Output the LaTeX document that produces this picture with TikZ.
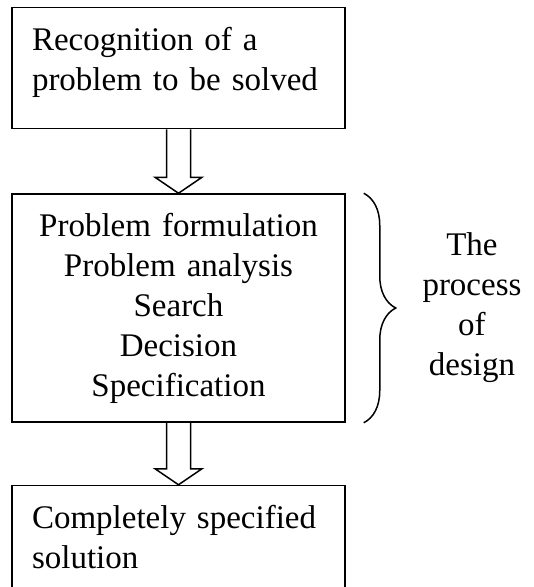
\documentclass[tikz,border=0pt]{standalone}
\usepackage{fontspec}
\setmainfont{Liberation Serif}
\usetikzlibrary{positioning,decorations.pathreplacing}

\begin{document}
\begin{tikzpicture}[node distance=64pt,
		line width=1.5pt,
		stage box/.style={rectangle,draw,inner xsep=20pt,text width=293pt,font=\fontsize{33}{40}\selectfont},
		hollow arrow/.style={line join=miter,to path={([xshift=-12pt]\tikztostart)
			-- ([xshift=-12pt,yshift=16pt]\tikztotarget) -- ([xshift=-23.5pt,yshift=16pt]\tikztotarget)
			-- (\tikztotarget)
			-- ([xshift=23.5pt,yshift=16pt]\tikztotarget) -- ([xshift=12pt,yshift=16pt]\tikztotarget)
			-- ([xshift=12pt]\tikztostart)}},
		curly/.style={decorate,decoration={brace,amplitude=32pt}}]

		\useasboundingbox (0,0) rectangle (534pt,-587pt);

		\node[stage box,minimum height=121pt,align=left,text depth=58pt] (rec) at (178.5pt,-68pt) {Recognition of a\\problem to be solved};
		\node[stage box,minimum height=228pt,align=center] (proc) [below=of rec] {Problem formulation\\Problem analysis\\Search\\Decision\\Specification};
		\node[stage box,minimum height=103pt,align=left] (sol) [below=62pt of proc] {Completely specified\\solution};

		\path
		(rec.south) edge[hollow arrow] (proc.north)
		(proc.south) edge[hollow arrow] (sol.north);

		% brace on the right of the middle box
		\draw[curly] ([xshift=18pt]proc.north east) -- ([xshift=18pt]proc.south east);
		\coordinate (tip) at ([xshift=50pt]proc.east);
		\node[right=26pt of tip,inner sep=0pt,align=center,font=\fontsize{33}{40}\selectfont] (design) {The\\process\\of\\design};
\end{tikzpicture}
\end{document}
